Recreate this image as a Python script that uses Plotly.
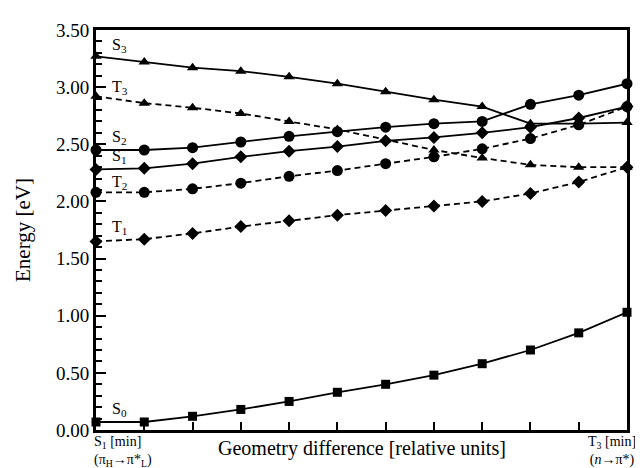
import plotly.graph_objects as go

x = list(range(12))

S0 = [0.07, 0.07, 0.12, 0.18, 0.25, 0.33, 0.40, 0.48, 0.58, 0.70, 0.85, 1.03]
S1 = [2.28, 2.29, 2.33, 2.39, 2.44, 2.48, 2.53, 2.56, 2.60, 2.65, 2.73, 2.83]
S2 = [2.45, 2.45, 2.47, 2.52, 2.57, 2.61, 2.65, 2.68, 2.70, 2.85, 2.93, 3.03]
S3 = [3.27, 3.22, 3.17, 3.14, 3.09, 3.03, 2.96, 2.89, 2.83, 2.68, 2.68, 2.69]
T1 = [1.65, 1.67, 1.72, 1.78, 1.83, 1.88, 1.92, 1.96, 2.00, 2.07, 2.17, 2.30]
T2 = [2.08, 2.08, 2.11, 2.16, 2.22, 2.27, 2.33, 2.39, 2.46, 2.55, 2.67, 2.83]
T3 = [2.92, 2.86, 2.82, 2.77, 2.70, 2.63, 2.54, 2.45, 2.38, 2.32, 2.30, 2.30]

series = [
    ("S0", S0, "square", "solid", 9),
    ("S1", S1, "diamond", "solid", 10),
    ("S2", S2, "circle", "solid", 11),
    ("S3", S3, "triangle-up", "solid", 10),
    ("T1", T1, "diamond", "dash", 10),
    ("T2", T2, "circle", "dash", 11),
    ("T3", T3, "triangle-up", "dash", 10),
]

state_labels = ["S<sub>3</sub>", "T<sub>3</sub>", "S<sub>2</sub>", "S<sub>1</sub>",
                "T<sub>2</sub>", "T<sub>1</sub>", "S<sub>0</sub>"]
label_y = [3.365, 3.00, 2.56, 2.395, 2.17, 1.77, 0.18]

yticks = [0.0, 0.5, 1.0, 1.5, 2.0, 2.5, 3.0, 3.5]
xtick_positions = list(range(1, 11))

FONT = "Liberation Serif"

fig = go.Figure()
for name, vals, sym, dash, ms in series:
    fig.add_trace(go.Scatter(
        x=x, y=vals, mode="lines+markers", name=name,
        line=dict(color="black", width=1.8, dash="6px,4px" if dash == "dash" else "solid"),
        marker=dict(symbol=sym, size=ms, color="black"),
        cliponaxis=False,
        showlegend=False,
    ))

for t, yv in zip(state_labels, label_y):
    fig.add_annotation(x=0.29, y=yv, xref="x", yref="y", text=t, showarrow=False,
                       xanchor="left", yanchor="middle",
                       font=dict(family=FONT, size=16, color="black"))

fig.add_annotation(x=0, y=-0.004, xref="paper", yref="paper", xshift=-4,
                   text="S<sub>1</sub> [min]<br>(π<sub>H</sub>→π*<sub>L</sub>)",
                   showarrow=False, xanchor="left", yanchor="top", align="left",
                   font=dict(family=FONT, size=14, color="black"))
fig.add_annotation(x=1, y=-0.004, xref="paper", yref="paper", xshift=11,
                   text="T<sub>3</sub> [min]<br>(<i>n</i>→π*)",
                   showarrow=False, xanchor="right", yanchor="top", align="center",
                   font=dict(family=FONT, size=14, color="black"))
fig.add_annotation(x=0.5, y=-0.045, xref="paper", yref="paper",
                   text="Geometry difference [relative units]",
                   showarrow=False, xanchor="center", yanchor="middle",
                   font=dict(family=FONT, size=20, color="black"))

# page body has an 8px margin, so size the figure to fill the 643x468 window
fig.update_layout(
    width=635, height=460,
    margin=dict(l=88, r=16, t=13, b=38),
    paper_bgcolor="white", plot_bgcolor="white",
    font=dict(family=FONT, size=19, color="black"),
    showlegend=False,
)
fig.update_xaxes(
    range=[0, 11], showgrid=False, zeroline=False,
    showline=True, linecolor="black", linewidth=3, mirror=True,
    tickvals=xtick_positions, showticklabels=False,
    ticks="inside", ticklen=8, tickwidth=2, tickcolor="black",
)
fig.update_yaxes(
    range=[0, 3.5], showgrid=False, zeroline=False,
    showline=True, linecolor="black", linewidth=3, mirror=True,
    tickvals=yticks, tickformat=".2f",
    ticks="inside", ticklen=10, tickwidth=2, tickcolor="black",
    minor=dict(dtick=0.1, tick0=0, ticks="inside", ticklen=6, tickwidth=2, tickcolor="black"),
    tickfont=dict(family=FONT, size=19, color="black"),
    title=dict(text="Energy [eV]", font=dict(family=FONT, size=21, color="black"), standoff=20),
)

fig.write_html("out.html")
